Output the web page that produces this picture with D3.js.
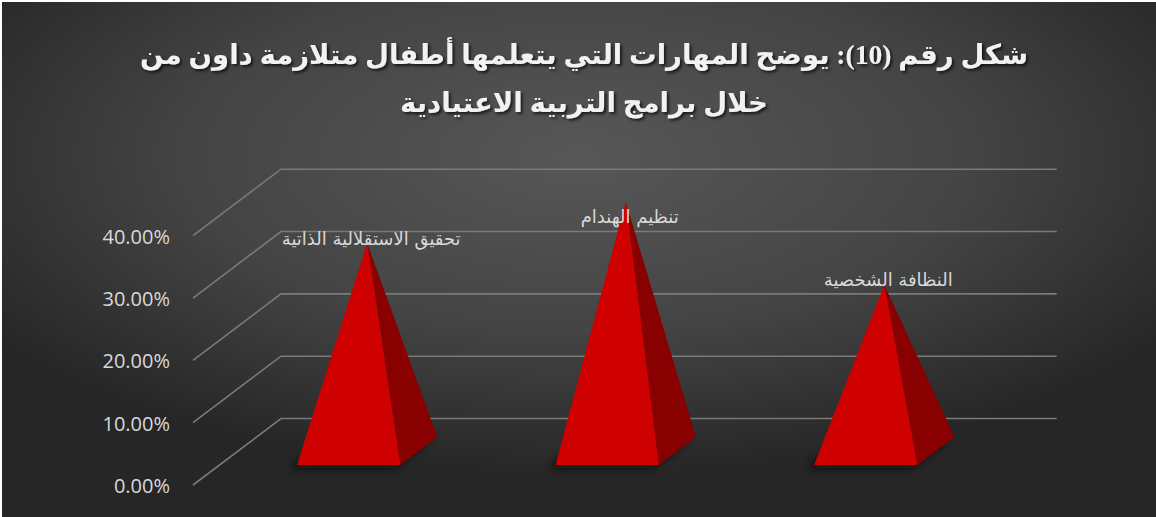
<!DOCTYPE html>
<html lang="ar">
<head>
<meta charset="utf-8">
<script src="https://cdn.jsdelivr.net/npm/d3@7"></script>
<style>
  html, body { margin: 0; padding: 0; background: #ffffff; }
  svg { display: block; }
</style>
</head>
<body>
<svg id="chart" width="1156" height="517"></svg>
<script>
// Share of children acquiring each skill
const categories = ["تحقيق الاستقلالية الذاتية", "تنظيم الهندام", "النظافة الشخصية"];
const values = [0.3333, 0.40, 0.2667];
const tickValues = [0, 0.1, 0.2, 0.3, 0.4];
const titleLines = [
  "شكل رقم (10): يوضح المهارات التي يتعلمها أطفال متلازمة داون من",
  "خلال برامج التربية الاعتيادية"
];

const W = 1156, H = 517;
const svg = d3.select("#chart");
const defs = svg.append("defs");

// Background: dark radial gradient, lighter towards the top centre
const bg = defs.append("radialGradient").attr("id", "bgGrad")
  .attr("cx", "0.5").attr("cy", "0.3").attr("r", "0.62").attr("fx", "0.5").attr("fy", "0.3");
bg.append("stop").attr("offset", "0").attr("stop-color", "#575757");
bg.append("stop").attr("offset", "0.55").attr("stop-color", "#444444");
bg.append("stop").attr("offset", "1").attr("stop-color", "#262626");
svg.append("rect").attr("x", 2).attr("y", 2).attr("width", W - 2).attr("height", H - 2)
  .attr("fill", "url(#bgGrad)");

// Soft shadow under pyramid bases
const blur = defs.append("filter").attr("id", "soft")
  .attr("x", "-30%").attr("y", "-60%").attr("width", "160%").attr("height", "220%");
blur.append("feGaussianBlur").attr("stdDeviation", 4);

const titleShadow = defs.append("filter").attr("id", "tshadow")
  .attr("x", "-5%").attr("y", "-20%").attr("width", "110%").attr("height", "140%");
titleShadow.append("feDropShadow").attr("dx", 2).attr("dy", 2).attr("stdDeviation", 1.5)
  .attr("flood-color", "#000").attr("flood-opacity", 0.7);

// 3D frame: front plane scales plus a depth vector towards the back wall
const frontLeft = 193, frontRight = 968.7;
const depthVec = { x: 88, y: -66.5 };
const x = d3.scaleBand().domain(categories).range([frontLeft, frontRight])
  .paddingInner(0.6).paddingOuter(0.3);
const y = d3.scaleLinear().domain([0, 0.4]).range([485, 235.7]);
const project = (px, v, d) => [px + d * depthVec.x, y(v) + d * depthVec.y];

// Gridlines: floor diagonal then along the back wall
const grid = svg.append("g").attr("fill", "none").attr("stroke", "#7a7a7a").attr("stroke-width", 1.6);
tickValues.forEach(t => {
  const p0 = project(frontLeft, t, 0);
  const p1 = project(frontLeft, t, 1);
  const p2 = project(frontRight, t, 1);
  grid.append("polyline").attr("points", [p0, p1, p2].map(p => p.join(",")).join(" "));
});

// Value axis labels
const axis = d3.axisLeft(y).tickValues(tickValues).tickFormat(d3.format(".2%")).tickSize(0).tickPadding(0);
const axisG = svg.append("g").attr("transform", "translate(170,1)").call(axis);
axisG.select(".domain").remove();
axisG.selectAll("text")
  .attr("fill", "#d9d9d9")
  .style("font-family", "'Open Sans', 'DejaVu Sans', sans-serif")
  .style("font-size", "20px");

// Pyramids
const dFront = 0.3, dBack = 0.72, dMid = (dFront + dBack) / 2;
const pyr = svg.append("g");
categories.forEach((c, i) => {
  const x0 = x(c), x1 = x(c) + x.bandwidth(), xc = x0 + x.bandwidth() / 2;
  const fl = project(x0, 0, dFront), fr = project(x1, 0, dFront);
  const br = project(x1, 0, dBack), bl = project(x0, 0, dBack);
  const apex = project(xc, values[i], dMid);
  const pts = a => a.map(p => p.join(",")).join(" ");

  pyr.append("polygon")
    .attr("points", pts([fl, fr, br, bl]))
    .attr("transform", "translate(-7,3)")
    .attr("fill", "#0d0d0d").attr("opacity", 0.85).attr("filter", "url(#soft)");
  pyr.append("polygon").attr("points", pts([apex, fr, br])).attr("fill", "#880000");
  pyr.append("polygon").attr("points", pts([apex, fl, fr])).attr("fill", "#cf0000");

  // Data label above the apex, kept inside the plot area
  const labelY = Math.max(apex[1] - 5, 216);
  svg.append("text")
    .attr("x", apex[0] + 4).attr("y", labelY)
    .attr("text-anchor", "middle").attr("dominant-baseline", "central")
    .attr("direction", "rtl")
    .attr("fill", "#d9d9d9")
    .style("font-family", "'DejaVu Sans', sans-serif")
    .style("font-size", "18px")
    .text(c);
});

// Title
const title = svg.append("g").attr("filter", "url(#tshadow)");
titleLines.forEach((line, i) => {
  title.append("text")
    .attr("x", W / 2 + 6).attr("y", 54 + i * 48)
    .attr("text-anchor", "middle").attr("dominant-baseline", "central")
    .attr("direction", "rtl")
    .attr("fill", "#f2f2f2")
    .style("font-family", "'Liberation Serif', 'DejaVu Sans', serif")
    .style("font-weight", "bold")
    .style("font-size", "27.5px")
    .text(line);
});
</script>
</body>
</html>
